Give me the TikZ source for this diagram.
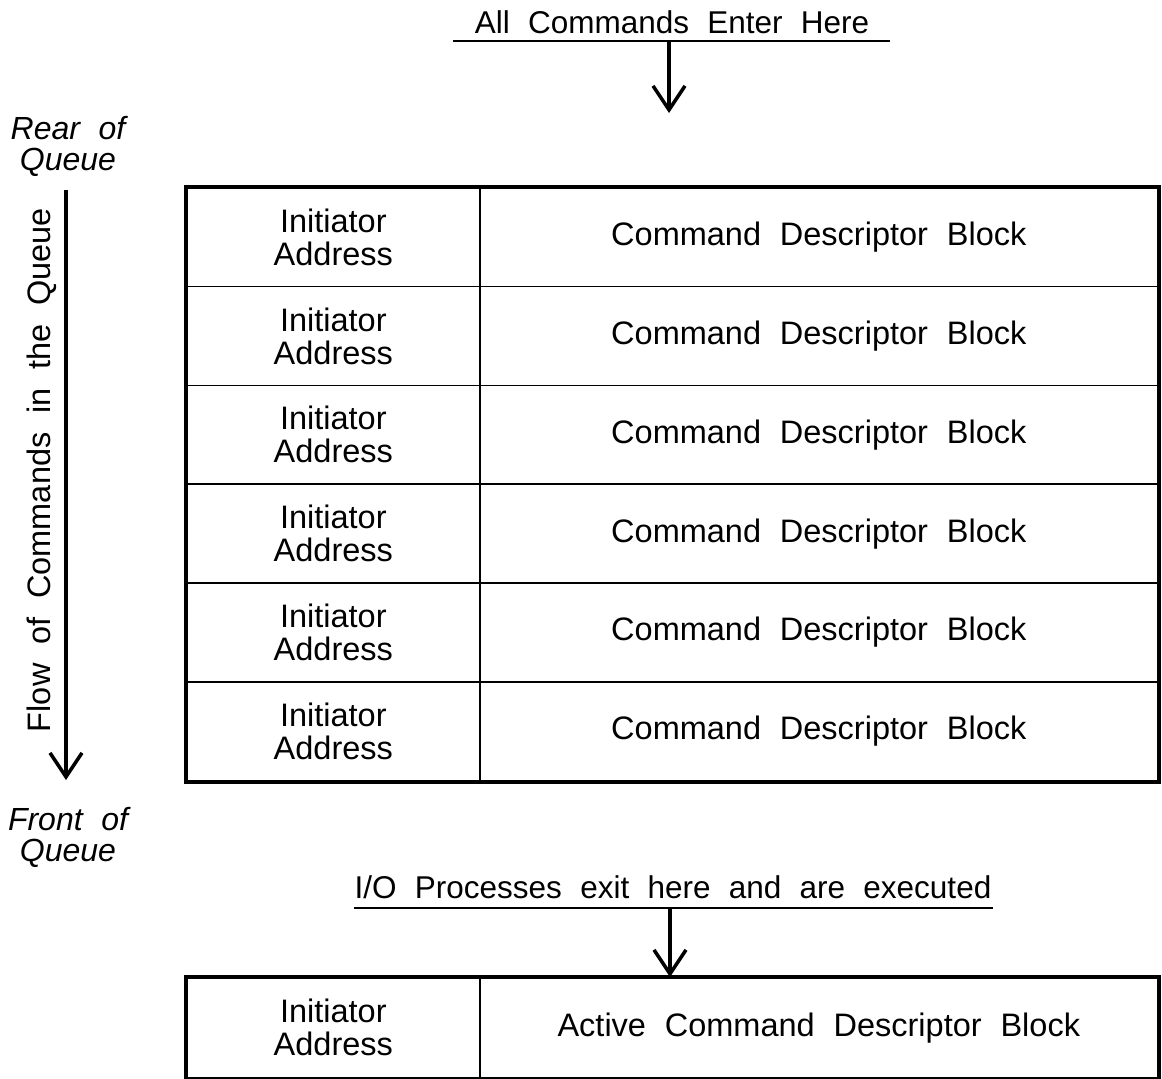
\documentclass[tikz,border=0pt]{standalone}
\usepackage{fontspec}
\setmainfont{Liberation Sans}
\usetikzlibrary{arrows.meta}

\begin{document}
\begin{tikzpicture}[x=1pt,y=-1pt,
  lbl/.style={font=\fontsize{32.5}{33}\selectfont, align=center, inner sep=0pt},
  heading/.style={lbl, font=\fontsize{31.5}{33}\selectfont},
  side/.style={font=\fontsize{32}{31}\selectfont\itshape, align=center, inner sep=0pt},
  cell/.style={draw, line width=1.6pt, minimum height=98.83pt, inner sep=0pt,
    anchor=north west, font=\fontsize{32.5}{33}\selectfont, align=center},
  iacell/.style={cell, minimum width=293pt},
  cdbcell/.style={cell, minimum width=678pt},
  frame/.style={line width=4pt},
  flow/.style={line width=3.5pt, -{Straight Barb[length=24pt, width=32pt, line width=3.5pt]}},
  spaced/.style={execute at begin node={\spaceskip=0.58em plus 0.1em}}
]
\useasboundingbox (0,0) rectangle (1162,1079);

% entry label with its rule and arrow
\node[heading, spaced] (enter) at (672,22) {All Commands Enter Here};
\coordinate (enterL) at (453,41);
\coordinate (enterR) at (890,41);
\coordinate (enterT) at (669,41);
\draw[line width=1.6pt] (enterL) -- (enterR);

% queue of six entries
\foreach \i in {1,...,6} {
  \node[iacell] (ia\i) at (186,{187+(\i-1)*98.83}) {Initiator\\Address};
  \node[cdbcell, spaced] (cdb\i) at (479,{187+(\i-1)*98.83}) {Command Descriptor Block};
}
\draw[frame] (ia1.north west) rectangle (cdb6.south east);

\coordinate (enterB) at (669,113);
\draw[flow] (enterT) -- (enterB);

% side labels and flow arrow
\node[side, spaced] (rear) at (68,146) {Rear of\\Queue};
\node[side, spaced] (front) at (68,837) {Front of\\Queue};
\coordinate (flowT) at (66,190);
\coordinate (flowB) at (66,780);
\draw[flow, line width=4.5pt] (flowT) -- (flowB);
\node[lbl, spaced, rotate=90] (flowlbl) at (42,470) {Flow of Commands in the Queue};

% exit label with its rule and arrow
\node[heading, spaced] (exit) at (673,887) {I/O Processes exit here and are executed};
\coordinate (exitL) at (354,908);
\coordinate (exitR) at (993,908);
\coordinate (exitT) at (670,908);
\draw[line width=1.6pt] (exitL) -- (exitR);

% active entry
\node[iacell, minimum height=100pt] (iaA) at (186,977) {Initiator\\Address};
\node[cdbcell, spaced, minimum height=100pt] (cdbA) at (479,977) {Active Command Descriptor Block};
\draw[frame] (iaA.north west) rectangle (cdbA.south east);
\draw[flow] (exitT) -- (cdbA.north -| exitT);
\end{tikzpicture}
\end{document}
